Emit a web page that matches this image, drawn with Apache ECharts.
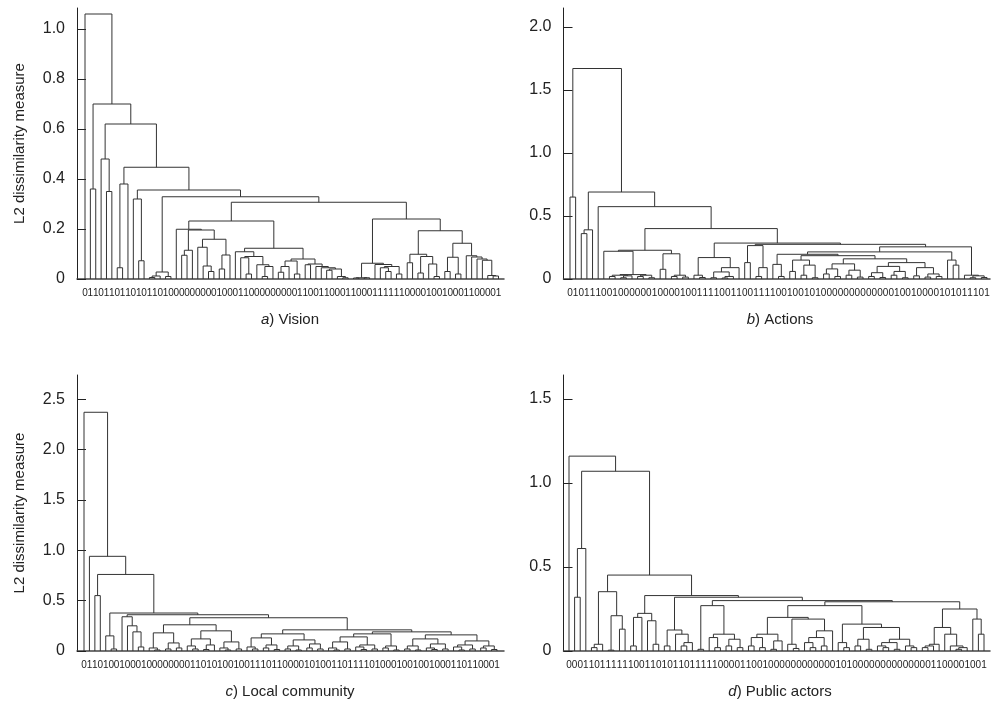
<!DOCTYPE html>
<html><head><meta charset="utf-8">
<script src="https://cdn.jsdelivr.net/npm/echarts@6/dist/echarts.min.js"></script>
<style>html,body{margin:0;padding:0;background:#fff}#c{width:991px;height:709px}</style>
</head><body><div id="c"></div>
<script>
// ---------- DATA ----------
// leaf labels (one character per leaf, in dendrogram order)
const labelsA = "0110110110"+"1011010000"+"0000010001"+"1000000000"+"1100110001"+"1000111111"+"0000100100"+"01100001";
const labelsB = "0101110010000001000010011"+"1100110011110010010100000"+"0000000010010000101011101";
const labelsC = "01101001000100000000110101"+"00100111011000010100110111"+"1010001001001000110110001";
const labelsD = "0001101111110011010110111"+"110000110010000000000001010"+"00000000000001100001001";

// merge height between consecutive leaves (L2 dissimilarity); tree = max-split of these gaps
const gapsA = [1.06,0.36,0.70,0.48,0.35,0.62,0.045,0.38,0.447,0.32,
  0.073,0.356,0.006,0.012,0.028,0.01,0.329,0.199,0.095,0.115,
  0.196,0.127,0.052,0.03,0.159,0.04,0.096,0.232,0.109,0.085,
  0.02,0.09,0.057,0.01,0.05,0.123,0.027,0.05,0.072,0.02,
  0.08,0.057,0.06,0.05,0.045,0.035,0.04,0.01,0.005,0.307,
  0.004,0.005,0.005,0.063,0.058,0.045,0.03,0.05,0.02,0.24,
  0.065,0.099,0.024,0.09,0.06,0.01,0.193,0.03,0.087,0.02,
  0.143,0.093,0.088,0.08,0.075,0.014,0.012];
const gapsB = [0.65,1.67,0.36,0.39,0.69,0.574,
  0.22,0.02,0.03,0.01,0.025,0.035,0.02,0.03,0.01,0.228,
  0.077,0.2,0.02,0.03,0.015,0.40,
  0.03,0.012,0.17,0.01,0.056,0.008,0.02,0.09,0.285,
  0.13,0.265,0.02,0.09,0.275,
  0.116,0.02,0.196,0.06,0.15,0.03,0.11,0.01,0.185,0.04,
  0.08,0.02,0.12,0.03,0.07,0.015,0.16,0.02,0.05,0.012,
  0.1,0.03,0.06,0.01,0.13,0.025,0.09,0.015,0.04,0.02,
  0.215,0.15,0.11,0.255,0.03,0.01,0.025,0.012];
const gapsC = [2.37,0.94,0.55,0.76,0.15,0.02,0.377,0.34,0.25,0.19,0.04,0.36,
  0.03,0.01,0.18,0.02,0.08,0.03,0.26,0.05,0.02,0.12,0.015,0.06,0.2,0.03,0.01,0.09,0.02,
  0.33,
  0.04,0.02,0.13,0.03,0.06,0.015,0.17,0.02,0.05,0.01,0.11,0.03,0.07,0.02,
  0.21,
  0.03,0.01,0.09,0.02,0.14,0.04,0.015,0.06,0.02,0.17,0.03,0.05,0.01,
  0.19,
  0.02,0.05,0.01,0.12,0.03,0.015,0.07,0.02,0.16,0.04,0.01,0.06,0.02,0.1,0.03,0.05,0.015];
const gapsD = [1.16,0.32,0.61,1.07,
  0.02,0.04,0.353,0.005,0.21,0.13,
  0.452,
  0.03,0.2,0.224,0.18,0.04,
  0.33,
  0.03,0.125,0.1,0.03,0.05,
  0.32,
  0.01,0.27,0.08,0.02,0.10,0.03,0.07,0.02,
  0.30,
  0.03,0.08,0.02,0.1,0.01,0.06,0.2,0.04,0.015,0.19,0.05,0.02,0.08,0.03,0.12,
  0.27,
  0.05,0.02,0.16,0.03,0.07,0.01,0.14,0.03,0.02,0.05,0.01,0.07,0.03,0.02,
  0.293,
  0.02,0.03,0.04,0.14,0.1,0.03,0.01,0.02,
  0.25,0.19,0.1];

// y tick labels
const yTicksA = [0,0.2,0.4,0.6,0.8,1.0];
const yTicksB = [0,0.5,1.0,1.5,2.0];
const yTicksC = [0,0.5,1.0,1.5,2.0,2.5];
const yTicksD = [0,0.5,1.0,1.5];

const panelTags = ["a","b","c","d"];
const panelNames = ["Vision","Actions","Local community","Public actors"];
const yAxisName = "L2 dissimilarity measure";

// ---------- LAYOUT (pixels) ----------
const layouts = [
  {gl:77,  gr:504, gt:8,   gb:279, leaf0:85,  leafN:498.5, yMax:1.084, yInt:0.2, tx:290, ty:312, yname:true},
  {gl:563.5,gr:990, gt:8,   gb:279, leaf0:570, leafN:987,   yMax:2.15,  yInt:0.5, tx:780, ty:312, yname:false},
  {gl:77,  gr:504, gt:375, gb:651, leaf0:84,  leafN:497,   yMax:2.74,  yInt:0.5, tx:290, ty:684, yname:true},
  {gl:563.5,gr:990, gt:375, gb:651, leaf0:569, leafN:984,   yMax:1.643, yInt:0.5, tx:780, ty:684, yname:false}
];
const allLabels = [labelsA, labelsB, labelsC, labelsD];
const allGaps = [gapsA, gapsB, gapsC, gapsD];
const allTicks = [yTicksA, yTicksB, yTicksC, yTicksD];

function buildSegments(gaps) {
  const n = gaps.length + 1;
  const segs = [];
  function rec(lo, hi) {
    if (lo === hi) return {x: lo, h: 0};
    let k = lo;
    for (let i = lo; i < hi; i++) if (gaps[i] > gaps[k]) k = i;
    const L = rec(lo, k), R = rec(k + 1, hi);
    const h = gaps[k];
    segs.push([L.x, L.h, R.x, R.h, h]);
    return {x: (L.x + R.x) / 2, h: h};
  }
  rec(0, n - 1);
  return segs;
}

const FONT = "'Liberation Sans', Arial, sans-serif";
const INK = '#222';
const grids = [], xAxes = [], yAxes = [], series = [], titles = [];

layouts.forEach((p, i) => {
  const labels = allLabels[i];
  const gaps = allGaps[i];
  const n = gaps.length + 1;
  const s = (p.leafN - p.leaf0) / (n - 1);
  grids.push({left: p.gl, top: p.gt, width: p.gr - p.gl, height: p.gb - p.gt, containLabel: false});
  xAxes.push({
    type: 'value', gridIndex: i,
    min: -(p.leaf0 - p.gl) / s, max: (n - 1) + (p.gr - p.leafN) / s,
    axisLine: {show: true, onZero: false, lineStyle: {color: '#444', width: 1.5}},
    axisTick: {show: false}, axisLabel: {show: false}, splitLine: {show: false}
  });
  const ticks = allTicks[i];
  yAxes.push({
    type: 'value', gridIndex: i, min: 0, max: p.yMax, interval: p.yInt,
    axisLine: {show: true, onZero: false, lineStyle: {color: INK, width: 1}},
    axisTick: {show: true, inside: true, length: 9, lineStyle: {color: INK}, customValues: ticks},
    axisLabel: {show: true, fontSize: 16, color: INK, fontFamily: FONT, margin: 12, customValues: ticks,
      formatter: v => {
        const on = ticks.some(t => Math.abs(t - v) < 1e-9);
        if (!on) return '';
        return v === 0 ? '0' : v.toFixed(1);
      }},
    splitLine: {show: false},
    name: p.yname ? yAxisName : '',
    nameLocation: 'middle', nameGap: 50, nameRotate: 90,
    nameTextStyle: {fontSize: 15, color: INK, fontFamily: FONT}
  });
  const segs = buildSegments(gaps);
  series.push({
    type: 'custom', xAxisIndex: i, yAxisIndex: i, silent: true, clip: false,
    encode: {x: [0, 2], y: [1, 3, 4]},
    data: segs,
    renderItem: (params, api) => {
      const xl = api.value(0), hl = api.value(1), xr = api.value(2), hr = api.value(3), h = api.value(4);
      const pts = [api.coord([xl, hl]), api.coord([xl, h]), api.coord([xr, h]), api.coord([xr, hr])];
      return {type: 'polyline', shape: {points: pts}, style: {stroke: '#333', lineWidth: 1, fill: null}};
    }
  });
  series.push({
    type: 'custom', xAxisIndex: i, yAxisIndex: i, silent: true, clip: false,
    encode: {x: 0, y: 1},
    data: labels.split('').map((c, k) => [k, 0]),
    renderItem: (params, api) => {
      const pt = api.coord([api.value(0), 0]);
      return {type: 'text', x: pt[0], y: pt[1] + 9,
        style: {text: labels[params.dataIndex], align: 'center', verticalAlign: 'top',
          fontSize: 10, fontFamily: FONT, fill: INK}};
    }
  });
  titles.push({
    text: '{i|' + panelTags[i] + '}) ' + panelNames[i],
    left: p.tx, top: p.ty, textAlign: 'center', padding: 0,
    textStyle: {fontSize: 15, fontWeight: 'normal', color: INK, fontFamily: FONT,
      rich: {i: {fontStyle: 'italic', fontSize: 15, color: INK, fontFamily: FONT}}}
  });
});

const chart = echarts.init(document.getElementById('c'), null, {renderer: 'canvas'});
chart.setOption({
  animation: false,
  backgroundColor: '#fff',
  title: titles, grid: grids, xAxis: xAxes, yAxis: yAxes, series: series
});
</script></body></html>
